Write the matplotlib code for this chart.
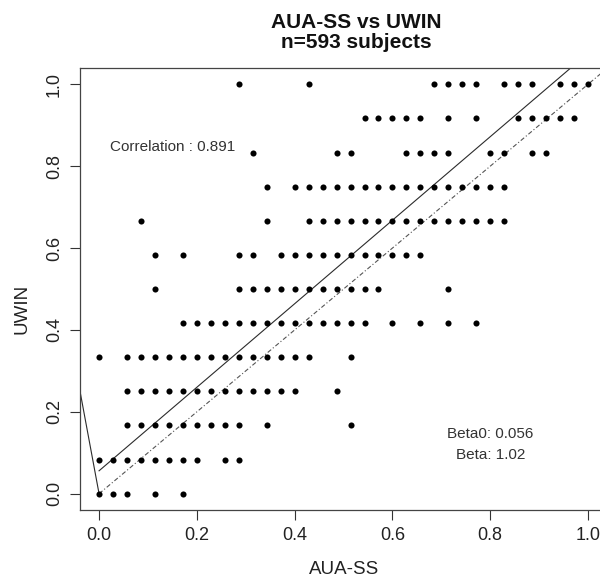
"""
AUA-SS vs UWIN scatter, R base-graphics look.
"""
import matplotlib
matplotlib.use("Agg")
import matplotlib.pyplot as plt

plt.rcParams["font.family"] = ["Liberation Sans", "DejaVu Sans"]

# ── Data: scores as numerators (AUA-SS out of 35, UWIN out of 12) ────────────
AUA_DEN = 35
UWIN_DEN = 12
uwin_levels = [0, 1, 2, 3, 4, 5, 6, 7, 8, 9, 10, 11, 12]
aua_by_uwin = [
    [0, 1, 2, 4, 6],
    [0, 1, 2, 3, 4, 5, 6, 7, 9, 10],
    [2, 3, 4, 5, 6, 7, 8, 9, 10, 12, 18],
    [2, 3, 4, 5, 6, 7, 8, 9, 10, 11, 12, 13, 14, 17],
    [0, 2, 3, 4, 5, 6, 7, 8, 9, 10, 11, 12, 13, 14, 15, 18],
    [6, 7, 8, 9, 10, 11, 12, 13, 14, 15, 16, 17, 18, 19, 21, 23, 25, 27],
    [4, 10, 11, 12, 13, 14, 15, 16, 17, 18, 19, 20, 25],
    [4, 6, 10, 11, 13, 14, 15, 16, 17, 18, 19, 20, 21, 22, 23],
    [3, 12, 15, 16, 17, 18, 19, 20, 21, 22, 23, 24, 25, 26, 27, 28, 29],
    [12, 14, 15, 16, 17, 18, 19, 20, 21, 22, 23, 24, 25, 26, 27, 28, 29],
    [11, 17, 18, 22, 23, 24, 25, 28, 29, 31, 32],
    [19, 20, 21, 22, 23, 25, 27, 30, 31, 32, 33, 34],
    [10, 15, 24, 25, 26, 27, 29, 30, 31, 33, 34, 35],
]

correlation = 0.891
beta0 = 0.056
beta = 1.02
n_subjects = 593

# stray line drawn into the lower-left corner
stray_x = [-0.04, 0.0]
stray_y = [0.257, 0.0]

ticks = [0.0, 0.2, 0.4, 0.6, 0.8, 1.0]
tick_labels = ["0.0", "0.2", "0.4", "0.6", "0.8", "1.0"]

xs, ys = [], []
for lev, row in zip(uwin_levels, aua_by_uwin):
    for k in row:
        xs.append(k / AUA_DEN)
        ys.append(lev / UWIN_DEN)

# ── Figure ───────────────────────────────────────────────────────────────────
W, H = 600, 579
fig = plt.figure(figsize=(W / 100, H / 100), dpi=100)
ax = fig.add_axes([79.5 / W, (H - 510.1) / H, 528.1 / W, 442.2 / H])
ax.set_xlim(-0.04, 1.04)
ax.set_ylim(-0.04, 1.04)

ax.plot(xs, ys, "o", color="black", markersize=4.4, markeredgewidth=0, zorder=3)

line_x = [0.0, 1.1]
ax.plot(line_x, [beta0 + beta * v for v in line_x], color="#2b2b2b", linewidth=0.8)
ax.plot(line_x, line_x, color="#555555", linewidth=0.8, dashes=(4, 2, 1, 2))
ax.plot(stray_x, stray_y, color="#2b2b2b", linewidth=0.8)

ax.text(0.15, 0.846, f"Correlation : {correlation}", ha="center", va="center",
        fontsize=11, color="#333333")
ax.text(0.80, 0.146, f"Beta0: {beta0}", ha="center", va="center", fontsize=11, color="#333333")
ax.text(0.80, 0.095, f"Beta: {beta}", ha="center", va="center", fontsize=11, color="#333333")

ax.set_xticks(ticks)
ax.set_xticklabels(tick_labels)
ax.set_yticks(ticks)
ax.set_yticklabels(tick_labels, rotation=90, va="center")
ax.tick_params(length=7, width=0.8, direction="out", labelsize=13, pad=5,
               colors="#333333", labelcolor="#222222")
for s in ax.spines.values():
    s.set_color("#444444")
    s.set_linewidth(0.9)

fig.text(356.6 / W, 1 - 28.5 / H, "AUA-SS vs UWIN", ha="center", va="baseline",
         fontsize=15, fontweight="bold", color="#111111")
fig.text(356.6 / W, 1 - 48 / H, f"n={n_subjects} subjects", ha="center", va="baseline",
         fontsize=15, fontweight="bold", color="#111111")
fig.text(343.7 / W, 1 - 570 / H, "AUA-SS", ha="center", va="center", fontsize=13.5, color="#222222")
fig.text(22.5 / W, 1 - 309 / H, "UWIN", ha="center", va="center", rotation=90,
         fontsize=13.5, color="#222222")

fig.savefig("out.png", dpi=100)
print("Saved out.png")
